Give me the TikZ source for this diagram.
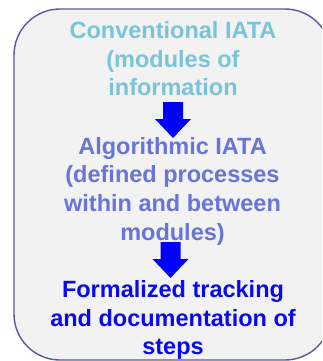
\documentclass[tikz,border=0pt]{standalone}
\usepackage{fontspec}
\setmainfont{Liberation Sans}
\definecolor{boxfill}{RGB}{242,242,242}
\definecolor{boxline}{RGB}{88,92,150}
\definecolor{lightblue}{RGB}{122,196,216}
\definecolor{midblue}{RGB}{104,116,214}
\definecolor{deepblue}{RGB}{10,10,240}
\definecolor{arrowblue}{RGB}{0,0,255}
\begin{document}
\begin{tikzpicture}[x=1pt,y=-1pt,
  txt/.style={align=center,inner sep=0pt,anchor=north,
    font=\fontsize{23.5}{28.6}\selectfont\bfseries},
  blockarrow/.style={fill=arrowblue}]
\useasboundingbox (0,0) rectangle (322,361);
\begin{scope}
\clip (0,0) rectangle (322,361);
\draw[boxline,fill=boxfill,line width=1.4pt,rounded corners=46pt]
  (14,9) rectangle (331,360);
\end{scope}
\node[txt,text=lightblue] (conv) at (173,21.5) {Conventional IATA\\(modules of\\information};
\node[txt,text=midblue] (algo) at (172.5,137) {Algorithmic IATA\\(defined processes\\within and between\\modules)};
\node[txt,text=deepblue] (form) at (173,280.5) {Formalized tracking\\and documentation of\\steps};
\coordinate (a1) at (173,102);
\coordinate (a2) at (170.5,242);
\fill[blockarrow] (a1) ++(-10,0) -- ++(20,0) -- ++(0,17) -- ++(8,0) -- ++(-18,19) -- ++(-18,-19) -- ++(8,0) -- cycle;
\fill[blockarrow] (a2) ++(-10,0) -- ++(20,0) -- ++(0,17) -- ++(8,0) -- ++(-18,19) -- ++(-18,-19) -- ++(8,0) -- cycle;
\end{tikzpicture}
\end{document}
